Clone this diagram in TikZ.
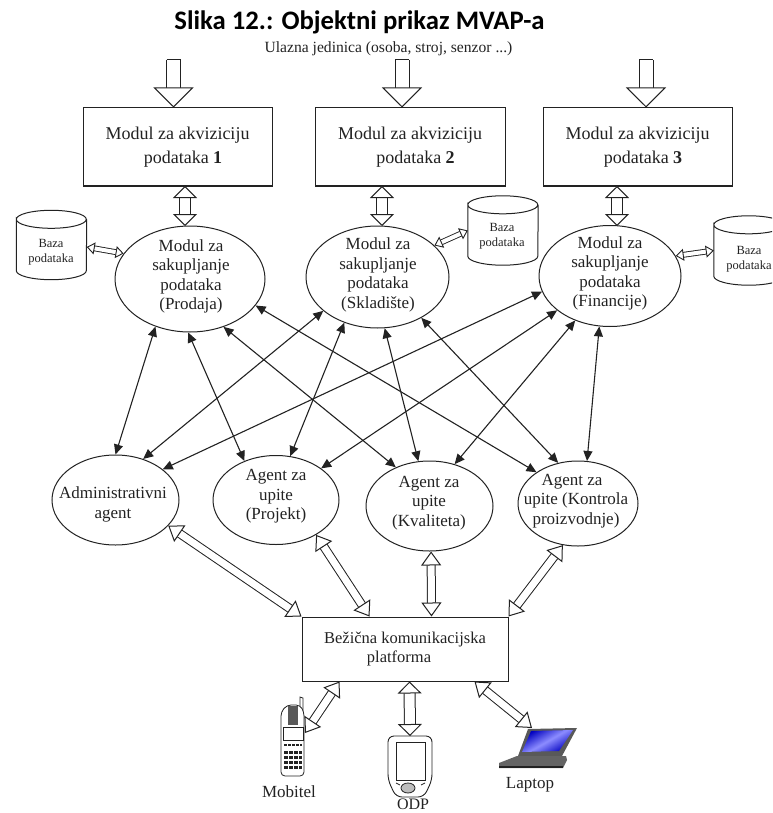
\documentclass[tikz,border=0pt]{standalone}
\usepackage{fontspec}
\setmainfont{Liberation Serif}
\newfontfamily\titlefont{Carlito}
\usepackage{tikz}
\usetikzlibrary{arrows.meta,shapes.geometric}
\definecolor{ink}{HTML}{222222}
\tikzstyle{box}=[
    draw = ink,
    line width = 1pt,
    fill = white,
    text = ink,
    align = center,
    inner sep = 0pt,
    font = \fontsize{18}{24}\selectfont
]
\tikzstyle{agent}=[
    draw = ink,
    line width = 1pt,
    ellipse,
    inner sep = 0pt
]
\tikzstyle{txt}=[
    text = ink,
    align = center,
    inner sep = 0pt,
    font = \fontsize{17}{19.5}\selectfont
]
\tikzstyle{baza}=[
    minimum width = 70pt,
    minimum height = 69pt,
    inner sep = 0pt
]
\tikzstyle{bazatxt}=[
    text = ink,
    align = center,
    inner sep = 0pt,
    font = \fontsize{12.5}{15.5}\selectfont
]
\tikzstyle{valjak}=[
    draw = ink,
    line width = 1pt,
    x radius = 35pt,
    y radius = 9pt
]
\tikzstyle{link}=[
    draw = ink,
    line width = 1.1pt,
    {Triangle[length=10pt,width=9pt]}-{Triangle[length=10pt,width=9pt]}
]
\tikzstyle{ulaz}=[
    draw = ink,
    line width = 1pt,
    double = white,
    double distance = 13pt,
    -{Triangle[fill=white,length=20pt,width=40pt]}
]
\tikzstyle{veza}=[
    draw = ink,
    line width = 1pt,
    double = white,
    double distance = 10pt,
    {Triangle[fill=white,length=12pt,width=24pt]}-{Triangle[fill=white,length=12pt,width=24pt]}
]
\tikzstyle{radio}=[
    draw = ink,
    line width = 1pt,
    double = white,
    double distance = 7pt,
    {Triangle[fill=white,length=14pt,width=20pt]}-{Triangle[fill=white,length=14pt,width=20pt]}
]
\tikzstyle{mala}=[
    draw = ink,
    line width = 0.9pt,
    double = white,
    double distance = 4pt,
    {Triangle[fill=white,length=8pt,width=12pt]}-{Triangle[fill=white,length=8pt,width=12pt]}
]
\begin{document}
\begin{tikzpicture}[x=1pt, y=-1pt]
    \useasboundingbox (0,0) rectangle (772,813);
    \clip (0,0) rectangle (772,813);

    \node[font=\titlefont\bfseries\fontsize{26.7}{30}\selectfont, inner sep=0pt] (naslov) at (359.5,22) {Slika 12.: Objektni prikaz MVAP-a};
    \node[text=ink, inner sep=0pt, font=\fontsize{15.6}{18}\selectfont] (ulazna) at (388.5,49) {Ulazna jedinica (osoba, stroj, senzor ...)};

    \node[box, minimum width=189pt, minimum height=78pt] (mod1) at (177.5,147) {Modul za akviziciju\\\hspace*{11pt}podataka \textbf{1}};
    \node[box, minimum width=190pt, minimum height=78pt] (mod2) at (410,147) {Modul za akviziciju\\\hspace*{11pt}podataka \textbf{2}};
    \node[box, minimum width=189pt, minimum height=78pt] (mod3) at (637.5,147) {Modul za akviziciju\\\hspace*{11pt}podataka \textbf{3}};

    \coordinate (in1) at (173.5,60);
    \coordinate (in2) at (402,60);
    \coordinate (in3) at (646,60);
    \draw[ulaz] (in1) -- (in1 |- mod1.north);
    \draw[ulaz] (in2) -- (in2 |- mod2.north);
    \draw[ulaz] (in3) -- (in3 |- mod3.north);
    \draw[ink, line width=1pt] ([xshift=-7pt]in1) -- ([xshift=7pt]in1);
    \draw[ink, line width=1pt] ([xshift=-7pt]in2) -- ([xshift=7pt]in2);
    \draw[ink, line width=1pt] ([xshift=-7pt]in3) -- ([xshift=7pt]in3);

    \node[agent, minimum width=150pt, minimum height=106pt] (skup1) at (190,279) {};
    \node[agent, minimum width=143pt, minimum height=102pt] (skup2) at (377.5,277) {};
    \node[agent, minimum width=142pt, minimum height=101pt] (skup3) at (610,276) {};
    \node[txt] (skup1txt) at (191,276.5) {Modul za\\sakupljanje\\podataka\\(Prodaja)};
    \node[txt] (skup2txt) at (378,275) {Modul za\\sakupljanje\\podataka\\(Skladište)};
    \node[txt] (skup3txt) at (610,273.5) {Modul za\\sakupljanje\\podataka\\(Financije)};

    \draw[veza] (185,226) -- (185,186);
    \draw[veza] (382,226) -- (382,186);
    \draw[veza] (617,226) -- (617,186);

    \node[baza] (baza1) at (51.5,245) {};
    \node[baza] (baza2) at (503,230.5) {};
    \node[baza] (baza3) at (749,250.5) {};
    \draw[valjak] ([yshift=-9pt]baza1.north west) arc[start angle=180, end angle=-180] -- ([yshift=9pt]baza1.south west) arc[start angle=180, end angle=360] -- ([yshift=-9pt]baza1.north east);
    \draw[valjak] ([yshift=-9pt]baza2.north west) arc[start angle=180, end angle=-180] -- ([yshift=9pt]baza2.south west) arc[start angle=180, end angle=360] -- ([yshift=-9pt]baza2.north east);
    \draw[valjak] ([yshift=-9pt]baza3.north west) arc[start angle=180, end angle=-180] -- ([yshift=9pt]baza3.south west) arc[start angle=180, end angle=360] -- ([yshift=-9pt]baza3.north east);
    \node[bazatxt] (baza1txt) at (51,252) {Baza\\podataka};
    \node[bazatxt] (baza2txt) at (502,236) {Baza\\podataka};
    \node[bazatxt] (baza3txt) at (749,259) {Baza\\podataka};

    \draw[mala] ([yshift=-2pt]baza1.east) -- (skup1.159);
    \draw[mala] (baza2.west) -- (skup2.29);
    \draw[mala] (baza3.west) -- (skup3.17);

    \node[agent, minimum width=127pt, minimum height=90pt] (admin) at (115.5,500) {};
    \node[agent, minimum width=126pt, minimum height=89pt] (projekt) at (276,500) {};
    \node[agent, minimum width=127pt, minimum height=90pt] (kvaliteta) at (429.5,506) {};
    \node[agent, minimum width=120pt, minimum height=85pt] (kontrola) at (578,503.5) {};
    \node[txt] (admintxt) at (113,504.5) {Administrativni\\agent};
    \node[txt] (projekttxt) at (276,496.5) {Agent za\\upite\\(Projekt)};
    \node[txt] (kvalitetatxt) at (429,503) {Agent za\\upite\\(Kvaliteta)};
    \node[txt] (kontrolatxt) at (576,501) {Agent za\hspace*{8pt}\\upite (Kontrola\\proizvodnje)};

    \draw[link] (skup1.234.5) -- (admin.90);
    \draw[link] (skup1.268) -- (projekt.129.5);
    \draw[link] (skup1.305) -- (kvaliteta.131);
    \draw[link] (skup1.338) -- (kontrola.143.6);
    \draw[link] (skup2.212.7) -- (admin.56.8);
    \draw[link] (skup2.234.8) -- (projekt.72);
    \draw[link] (skup2.278.4) -- (kvaliteta.104);
    \draw[link] (skup2.317.3) -- (kontrola.116);
    \draw[link] (skup3.193) -- (admin.33.4);
    \draw[link] (skup3.213.4) -- (projekt.35);
    \draw[link] (skup3.232) -- (kvaliteta.59);
    \draw[link] (skup3.258) -- (kontrola.78);

    \node[box, minimum width=206pt, minimum height=64pt, font=\fontsize{16.5}{19.5}\selectfont] (platforma) at (405,649) {Bežična komunikacijska\\platforma\hspace*{12pt}};

    \draw[radio] (admin.334) -- (platforma.north west);
    \draw[radio] (projekt.319.5) -- ([xshift=68pt]platforma.north west);
    \draw[radio] (kvaliteta.272) -- ([xshift=130pt]platforma.north west);
    \draw[radio] (kontrola.250) -- (platforma.north east);

    \coordinate (mobi) at (305,733);
    \coordinate (dlan) at (410,736);
    \coordinate (lap) at (532,728);

    % mobitel
    \draw[ink, line width=0.8pt] (300,720) -- (300,697) -- (303,698) -- (303,722);
    \draw[ink, line width=0.8pt, fill=white, rounded corners=4pt] (281,776) -- (281,712) -- (287,705) -- (300,705) -- (304,712) -- (304,776) -- cycle;
    \fill[ink!75] (288,706) rectangle (298,725);
    \draw[ink, line width=0.7pt] (283,727) rectangle (303,740);
    \draw[ink, line width=2.5pt, dash pattern=on 3pt off 1pt] (284,745) -- (302,745);
    \draw[ink, line width=3pt, dash pattern=on 4pt off 1pt] (284,752) -- (302,752);
    \draw[ink, line width=3pt, dash pattern=on 4pt off 1pt] (284,757) -- (302,757);
    \draw[ink, line width=3pt, dash pattern=on 4pt off 1pt] (284,762) -- (302,762);
    \draw[ink, line width=3pt, dash pattern=on 4pt off 1pt] (284,767) -- (302,767);
    \node[txt] (mobitxt) at (289,792) {Mobitel};

    % dlanovnik
    \draw[ink, line width=0.9pt, fill=white, rounded corners=6pt] (388,736) -- (432,736) -- (432,780) -- (424,797) -- (396,797) -- (388,780) -- cycle;
    \draw[ink, line width=0.8pt] (396,742) rectangle (425,780);
    \draw[ink, line width=0.8pt, fill=ink!30] (408,788) ellipse (7pt and 5pt);
    \draw[ink, line width=0.8pt] (396,783) -- (400,785);
    \draw[ink, line width=0.8pt] (425,783) -- (421,785);
    \node[txt, font=\fontsize{16}{18}\selectfont] (dlantxt) at (413,804) {ODP};

    % laptop
    \fill[ink!75] (528,729) -- (577,728) -- (562,756) -- (518,756) -- cycle;
    \shade[left color=blue!75!black, right color=blue!75!black, middle color=blue!45!white, shading angle=30] (531,731) -- (573,730) -- (559,751) -- (522,752) -- cycle;
    \fill[ink!70] (499,763) -- (517,756) -- (566,756) -- (567,760) -- (563,768) -- (499,768) -- cycle;
    \fill[ink] (499,766) -- (563,766) -- (563,768) -- (499,768) -- cycle;
    \node[txt] (laptxt) at (530,785) {Laptop};

    \draw[radio] ([xshift=38pt]platforma.south west) -- (mobi);
    \draw[veza] ([xshift=108pt]platforma.south west) -- (dlan);
    \draw[radio] ([xshift=173pt]platforma.south west) -- (lap);
\end{tikzpicture}
\end{document}
